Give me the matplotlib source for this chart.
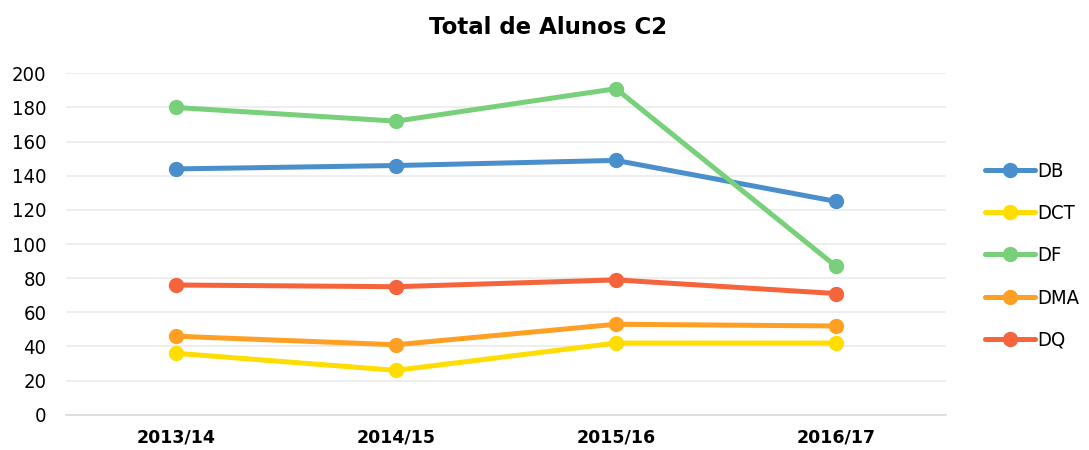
import matplotlib
matplotlib.use("Agg")
import matplotlib.pyplot as plt
from matplotlib import font_manager
from matplotlib.font_manager import FontProperties

categories = ["2013/14", "2014/15", "2015/16", "2016/17"]
series_names = ["DB", "DCT", "DF", "DMA", "DQ"]
DB = [144, 146, 149, 125]
DCT = [36, 26, 42, 42]
DF = [180, 172, 191, 87]
DMA = [46, 41, 53, 52]
DQ = [76, 75, 79, 71]
yticks = [0, 20, 40, 60, 80, 100, 120, 140, 160, 180, 200]

colors = ["#4A8FCB", "#FFDD00", "#78D07A", "#FFA024", "#F5643A"]
values = [DB, DCT, DF, DMA, DQ]

names = {f.name for f in font_manager.fontManager.ttflist}
if "Liberation Sans Narrow" in names:
    tick_fp = FontProperties(family="Liberation Sans Narrow", size=16)
    leg_fp = FontProperties(family="Liberation Sans Narrow", size=16)
else:
    tick_fp = FontProperties(family="DejaVu Sans", stretch="condensed", size=14.5)
    leg_fp = FontProperties(family="DejaVu Sans", stretch="condensed", size=14.5)

fig = plt.figure(figsize=(10.89, 4.5), dpi=100)
ax = fig.add_axes([0.0606, 0.0784, 0.808, 0.7586])

x = list(range(len(categories)))
for name, vals, c in zip(series_names, values, colors):
    ax.plot(x, vals, color=c, lw=3.6, marker="o", markersize=10,
            solid_capstyle="round", label=name, zorder=3)

ax.set_xlim(-0.5, 3.5)
ax.set_ylim(0, 200)
ax.set_yticks(yticks)
ax.set_yticklabels([str(t) for t in yticks], fontproperties=tick_fp, color="#000000")
ax.set_xticks(x)
ax.set_xticklabels(categories, fontsize=12.5, fontweight="bold", family="DejaVu Sans")
ax.tick_params(axis="both", length=0)
ax.tick_params(axis="y", pad=14)
ax.tick_params(axis="x", pad=10)
ax.grid(axis="y", color="#EBEBEB", lw=1.2, zorder=0)
ax.set_axisbelow(True)
for s in ["top", "right", "left"]:
    ax.spines[s].set_visible(False)
ax.spines["bottom"].set_color("#D9D9D9")
ax.spines["bottom"].set_linewidth(1.2)

fig.text(0.503, 0.94, "Total de Alunos C2", ha="center", va="center",
         fontsize=16.5, fontweight="heavy", family="DejaVu Sans")

leg = ax.legend(loc="center left", bbox_to_anchor=(1.035, 0.465), frameon=False,
                prop=leg_fp, handlelength=2.5,
                handletextpad=0.1, labelspacing=1.15, borderaxespad=0)

fig.savefig("out.png", dpi=100)
